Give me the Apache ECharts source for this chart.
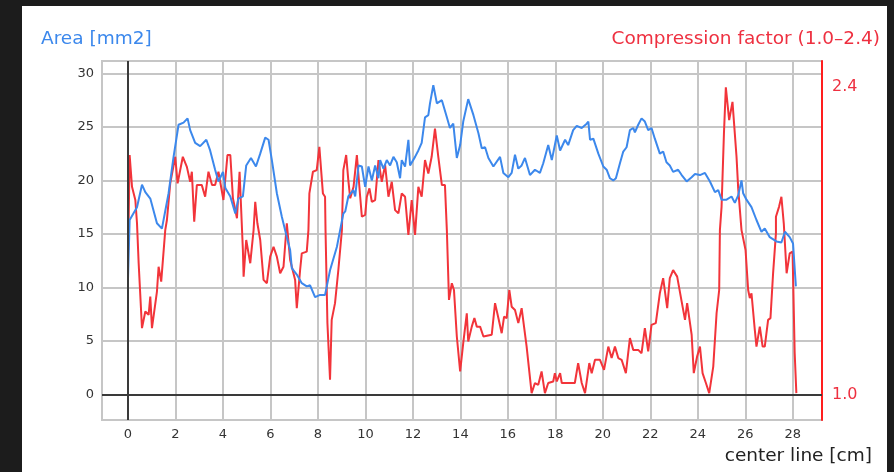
<!DOCTYPE html>
<html>
<head>
<meta charset="utf-8">
<script src="https://cdn.jsdelivr.net/npm/echarts@6/dist/echarts.min.js"></script>
<style>
  html, body { margin: 0; padding: 0; background: #1c1c1c; }
  #chart { width: 894px; height: 472px; }
</style>
</head>
<body>
<div id="chart"></div>
<script>
// Cross-sectional area along the center line [mm2]
const areaPos = [0.00,0.07,0.38,0.59,0.73,0.94,1.22,1.43,1.71,1.92,2.13,2.34,2.51,2.62,2.83,3.04,3.30,3.46,3.67,3.81,4.00,4.10,4.31,4.52,4.65,4.84,4.98,5.18,5.39,5.57,5.78,5.92,6.06,6.27,6.48,6.69,6.83,6.90,7.11,7.32,7.53,7.67,7.88,8.09,8.30,8.51,8.80,9.07,9.15,9.28,9.49,9.57,9.71,9.85,9.99,10.13,10.27,10.41,10.55,10.62,10.76,10.90,11.04,11.18,11.32,11.46,11.53,11.67,11.81,11.88,12.09,12.23,12.37,12.51,12.65,12.72,12.86,13.01,13.22,13.43,13.56,13.70,13.85,13.99,14.12,14.33,14.55,14.76,14.90,15.04,15.18,15.39,15.67,15.81,16.02,16.16,16.30,16.44,16.58,16.72,16.93,17.14,17.35,17.49,17.70,17.85,18.06,18.20,18.41,18.54,18.75,18.90,19.11,19.32,19.39,19.46,19.60,19.81,20.02,20.16,20.30,20.44,20.55,20.72,20.86,21.00,21.14,21.28,21.35,21.49,21.63,21.77,21.91,22.05,22.19,22.40,22.54,22.68,22.82,22.96,23.17,23.32,23.53,23.74,23.88,24.09,24.30,24.51,24.72,24.86,25.00,25.21,25.42,25.56,25.70,25.84,25.91,26.05,26.26,26.47,26.68,26.82,27.03,27.31,27.52,27.67,27.87,28.01,28.13];
const areaVal = [10.7,16.3,17.5,19.6,18.9,18.3,16.0,15.5,18.8,22.2,25.2,25.4,25.8,24.7,23.5,23.2,23.8,22.8,21.0,19.9,20.8,19.3,18.5,16.9,18.3,18.5,21.4,22.1,21.3,22.5,24.0,23.8,21.9,18.8,16.6,14.7,13.5,11.8,11.2,10.4,10.1,10.2,9.1,9.3,9.3,11.6,13.8,16.9,17.1,18.5,19.1,18.5,21.4,21.3,19.4,21.3,20.0,21.4,20.2,21.9,21.1,21.9,21.4,22.2,21.7,20.2,21.9,21.3,23.8,21.4,22.2,22.8,23.5,25.9,26.1,27.2,28.9,27.2,27.5,25.9,24.9,25.3,22.1,23.3,25.5,27.6,26.1,24.4,23.0,23.1,22.1,21.3,22.2,20.7,20.3,20.7,22.4,21.1,21.4,22.1,20.5,21.0,20.7,21.6,23.3,21.9,24.2,22.8,23.8,23.3,24.7,25.1,24.9,25.3,25.5,23.8,23.9,22.5,21.3,21.0,20.2,20.0,20.2,21.6,22.7,23.1,24.7,24.9,24.5,25.2,25.8,25.5,24.7,24.9,23.9,22.5,22.7,21.7,21.4,20.8,21.0,20.5,19.9,20.3,20.6,20.5,20.7,19.9,18.9,19.1,18.2,18.2,18.5,17.9,18.6,20.0,18.8,18.2,17.5,16.3,15.2,15.5,14.7,14.3,14.2,15.2,14.7,14.1,10.1];

// Compression factor along the center line (1.0 - 2.4)
const compPos = [0.01,0.07,0.17,0.31,0.38,0.45,0.59,0.73,0.87,0.94,1.01,1.22,1.29,1.40,1.57,1.64,1.78,1.99,2.09,2.31,2.48,2.62,2.69,2.79,2.90,3.11,3.25,3.39,3.54,3.67,3.81,4.02,4.19,4.31,4.42,4.59,4.70,4.84,4.87,4.98,5.15,5.29,5.36,5.45,5.57,5.71,5.85,5.99,6.13,6.27,6.41,6.55,6.69,6.83,7.04,7.11,7.25,7.32,7.53,7.60,7.64,7.79,7.95,8.06,8.21,8.30,8.32,8.40,8.51,8.58,8.72,8.86,9.01,9.07,9.19,9.28,9.36,9.50,9.64,9.78,9.85,9.99,10.06,10.17,10.27,10.41,10.55,10.69,10.83,10.97,11.11,11.25,11.39,11.53,11.67,11.81,11.95,12.09,12.23,12.37,12.51,12.65,12.79,12.93,13.07,13.22,13.35,13.43,13.52,13.64,13.73,13.85,13.99,14.12,14.27,14.33,14.48,14.59,14.69,14.83,14.97,15.32,15.46,15.60,15.74,15.84,15.95,16.06,16.16,16.30,16.44,16.58,16.79,17.00,17.14,17.28,17.42,17.56,17.70,17.91,17.98,18.06,18.20,18.27,18.82,18.96,19.11,19.25,19.43,19.53,19.67,19.88,20.05,20.23,20.37,20.51,20.65,20.79,20.97,21.14,21.28,21.49,21.63,21.77,21.91,22.05,22.23,22.40,22.54,22.71,22.82,22.96,23.13,23.32,23.46,23.55,23.74,23.83,23.97,24.09,24.20,24.34,24.48,24.65,24.79,24.90,24.93,25.00,25.10,25.18,25.32,25.46,25.63,25.70,25.84,26.01,26.12,26.19,26.26,26.40,26.47,26.61,26.73,26.82,26.96,27.06,27.17,27.29,27.29,27.42,27.52,27.62,27.74,27.87,27.99,28.08,28.15];
const compVal = [1.658,2.091,1.946,1.886,1.780,1.598,1.302,1.378,1.363,1.446,1.302,1.469,1.582,1.514,1.749,1.795,1.962,2.083,1.962,2.083,2.037,1.969,2.015,1.787,1.954,1.954,1.901,2.015,1.954,1.954,2.015,1.886,2.091,2.091,1.894,1.803,2.015,1.658,1.537,1.704,1.598,1.749,1.878,1.780,1.704,1.522,1.507,1.628,1.673,1.628,1.552,1.582,1.780,1.613,1.522,1.393,1.567,1.643,1.651,1.749,1.916,2.015,2.022,2.128,1.916,1.901,1.749,1.325,1.067,1.340,1.416,1.567,1.749,2.022,2.091,1.977,1.894,1.946,2.091,1.901,1.810,1.818,1.901,1.939,1.878,1.886,2.068,1.969,2.045,1.901,1.969,1.840,1.825,1.916,1.901,1.727,1.886,1.727,1.946,1.901,2.068,2.007,2.083,2.212,2.083,1.954,1.954,1.749,1.431,1.507,1.476,1.264,1.105,1.234,1.370,1.241,1.309,1.348,1.309,1.309,1.264,1.272,1.416,1.348,1.279,1.355,1.348,1.476,1.400,1.385,1.325,1.393,1.218,1.006,1.052,1.044,1.105,1.006,1.052,1.059,1.097,1.059,1.097,1.052,1.052,1.143,1.052,1.006,1.143,1.097,1.158,1.158,1.112,1.218,1.166,1.218,1.166,1.158,1.097,1.257,1.203,1.203,1.188,1.302,1.196,1.317,1.325,1.461,1.530,1.393,1.530,1.567,1.537,1.423,1.340,1.416,1.272,1.097,1.173,1.218,1.097,1.052,1.006,1.127,1.370,1.476,1.749,1.855,2.189,2.400,2.250,2.333,2.083,1.939,1.749,1.658,1.476,1.439,1.461,1.294,1.218,1.309,1.218,1.218,1.340,1.348,1.552,1.734,1.810,1.855,1.901,1.780,1.552,1.643,1.651,1.188,1.006];

// Axis tick labels
const posTicks = [0, 2, 4, 6, 8, 10, 12, 14, 16, 18, 20, 22, 24, 26, 28];
const areaTicks = [0, 5, 10, 15, 20, 25, 30];
const compTicks = [1.0, 2.4];

const BLUE = '#3c88ec';
const RED = '#f2343a';
const GRID = '#c6c6c6';
const FONT = 'DejaVu Sans';

const chart = echarts.init(document.getElementById('chart'), null, { renderer: 'canvas' });

const areaData = areaPos.map((x, i) => [x, areaVal[i]]);
const compData = compPos.map((x, i) => [x, compVal[i]]);

chart.setOption({
  animation: false,
  backgroundColor: 'transparent',
  textStyle: { fontFamily: FONT },
  graphic: [
    { type: 'rect', z: -10, shape: { x: 22, y: 6, width: 865, height: 466 }, style: { fill: '#ffffff' } },
    { type: 'text', left: 41, top: 30, style: { text: 'Area [mm2]', fill: BLUE, font: '18.5px ' + FONT } },
    { type: 'text', right: 14, top: 30, style: { text: 'Compression factor (1.0\u20132.4)', fill: '#ee3040', font: '18.5px ' + FONT } },
    { type: 'text', right: 22, top: 447, style: { text: 'center line [cm]', fill: '#222', font: '18.5px ' + FONT } }
  ],
  grid: {
    left: 102, right: 72, top: 61, bottom: 52,
    show: true, borderColor: GRID, borderWidth: 2, backgroundColor: '#fff'
  },
  xAxis: {
    type: 'value', min: -1.094, max: 29.23,
    axisLine: { show: false, onZero: false },
    axisTick: { show: false, customValues: posTicks },
    axisLabel: { customValues: posTicks, color: '#333', fontSize: 13, margin: 8, fontFamily: FONT },
    splitLine: { show: true, lineStyle: { color: GRID, width: 2 } }
  },
  yAxis: [
    {
      type: 'value', min: -2.39, max: 31.16, position: 'left',
      axisLine: { show: false, onZero: false },
      axisTick: { show: false, customValues: areaTicks },
      axisLabel: { customValues: areaTicks, color: '#333', fontSize: 13, margin: 8, fontFamily: FONT },
      splitLine: { show: true, lineStyle: { color: GRID, width: 2 } }
    },
    {
      type: 'value', min: 0.8835, max: 2.5196, position: 'right',
      axisLine: { show: true, onZero: false, lineStyle: { color: '#ff1e1e', width: 2 } },
      axisTick: { show: false, customValues: compTicks },
      axisLabel: {
        customValues: compTicks, color: '#ee3040', fontSize: 16, margin: 10, fontFamily: FONT,
        formatter: v => v.toFixed(1)
      },
      splitLine: { show: false }
    }
  ],
  series: [
    {
      name: 'Compression factor', type: 'line', yAxisIndex: 1, data: compData,
      showSymbol: false, symbol: 'none', lineStyle: { color: RED, width: 2 }, z: 3
    },
    {
      name: 'Area', type: 'line', yAxisIndex: 0, data: areaData,
      showSymbol: false, symbol: 'none', lineStyle: { color: BLUE, width: 2 }, z: 4,
      markLine: {
        silent: true, symbol: 'none', label: { show: false },
        lineStyle: { color: '#3a3a3a', width: 2, type: 'solid' },
        data: [{ xAxis: 0 }, { yAxis: 0 }]
      }
    }
  ]
});
</script>
</body>
</html>
